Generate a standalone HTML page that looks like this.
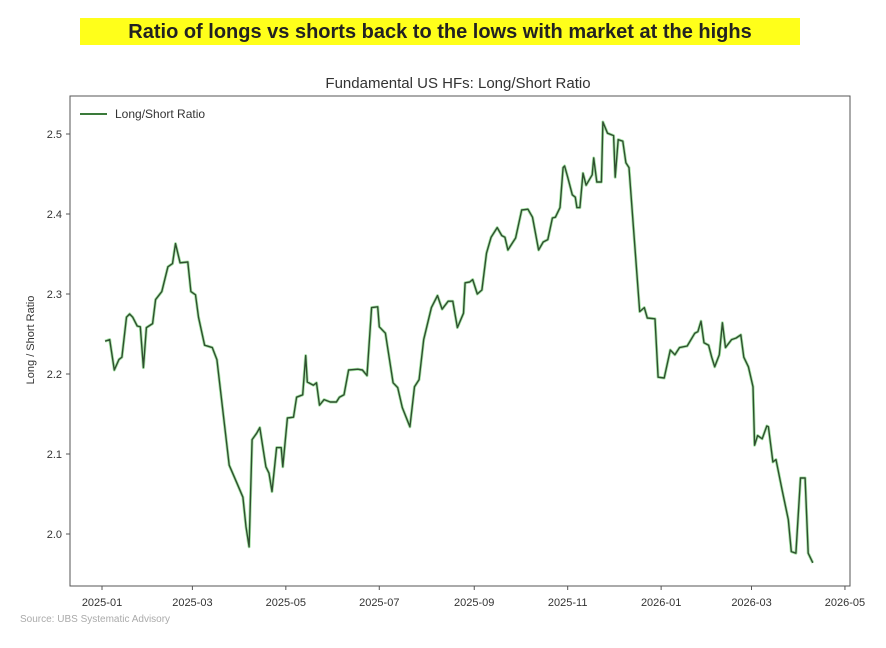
<!DOCTYPE html>
<html><head><meta charset="utf-8"><style>
body{margin:0;background:#fff;width:886px;height:643px;overflow:hidden;font-family:"Liberation Sans",sans-serif}
</style></head><body>
<svg id="c" width="886" height="643" xmlns="http://www.w3.org/2000/svg">
<rect x="80" y="18" width="720" height="27" fill="#ffff1a"/>
<text x="440" y="38" text-anchor="middle" font-size="20" font-weight="bold" fill="#222">Ratio of longs vs shorts back to the lows with market at the highs</text>
<text x="458" y="88" text-anchor="middle" font-size="15" fill="#333">Fundamental US HFs: Long/Short Ratio</text>
<text transform="translate(34,340) rotate(-90)" text-anchor="middle" font-size="11" fill="#333">Long / Short Ratio</text>
<text x="20" y="622" font-size="10" fill="#aaa">Source: UBS Systematic Advisory</text>
<g id="ax"></g>
<g id="plot"></g>
<rect x="70" y="96" width="780" height="490" fill="none" stroke="#555" stroke-width="1"/>
<g>
<line x1="80" y1="114" x2="107" y2="114" stroke="#3a7a3a" stroke-width="2"/>
<text x="115" y="118" font-size="12" fill="#333">Long/Short Ratio</text>
</g>
</svg>
<script>
const days=[2,5,8,11,13,16,18,20,23,25,27,29,33,35,39,43,46,48,51,56,58,61,63,67,72,75,83,88,92,94,96,98,101,103,107,109,111,114,117,118,121,125,127,131,133,134,138,140,142,145,149,153,155,158,161,167,170,173,176,180,181,185,190,193,196,201,204,207,210,215,219,222,226,229,232,236,237,240,242,245,248,251,254,258,261,263,265,268,270,274,278,281,285,288,291,294,296,299,301,302,304,307,309,310,312,314,316,320,321,323,326,327,330,334,335,337,340,342,344,349,351,354,356,361,363,367,371,374,377,382,387,389,391,393,396,398,400,403,405,407,411,414,417,419,422,425,426,428,431,434,435,438,440,444,448,450,453,456,459,461,464];
const values=[2.241,2.243,2.205,2.218,2.221,2.271,2.275,2.271,2.260,2.259,2.208,2.258,2.263,2.293,2.303,2.334,2.338,2.363,2.339,2.340,2.303,2.299,2.271,2.236,2.233,2.218,2.086,2.064,2.046,2.009,1.984,2.118,2.126,2.133,2.084,2.076,2.053,2.108,2.108,2.084,2.145,2.146,2.171,2.174,2.223,2.190,2.186,2.189,2.161,2.168,2.165,2.165,2.171,2.174,2.205,2.206,2.205,2.198,2.283,2.284,2.259,2.251,2.189,2.183,2.158,2.134,2.184,2.193,2.243,2.283,2.298,2.281,2.291,2.291,2.258,2.276,2.314,2.315,2.318,2.300,2.305,2.351,2.371,2.383,2.373,2.371,2.355,2.364,2.370,2.405,2.406,2.396,2.355,2.365,2.368,2.395,2.396,2.408,2.458,2.460,2.446,2.424,2.421,2.408,2.408,2.451,2.436,2.449,2.470,2.440,2.440,2.515,2.501,2.498,2.446,2.493,2.491,2.464,2.458,2.330,2.278,2.283,2.270,2.269,2.196,2.195,2.230,2.224,2.233,2.235,2.251,2.253,2.266,2.239,2.236,2.221,2.209,2.224,2.264,2.233,2.243,2.245,2.249,2.221,2.209,2.184,2.111,2.123,2.119,2.135,2.134,2.090,2.093,2.055,2.018,1.978,1.976,2.070,2.070,1.976,1.964];
const xTickDays=[0,59,120,181,243,304,365,424,485];
const xTickLabels=["2025-01","2025-03","2025-05","2025-07","2025-09","2025-11","2026-01","2026-03","2026-05"];
const yTicks=[2.0,2.1,2.2,2.3,2.4,2.5];
const yTickLabels=["2.0","2.1","2.2","2.3","2.4","2.5"];
const NS="http://www.w3.org/2000/svg";
const X0=-20.9,X1=488.3,PL=70,PR=850,Y0=1.935,Y1=2.5475,PB=586,PT=96;
const xs=d=>PL+(d-X0)/(X1-X0)*(PR-PL);
const ys=v=>PB-(v-Y0)/(Y1-Y0)*(PB-PT);
const ax=document.getElementById('ax'),plot=document.getElementById('plot');
function mk(t,a){const e=document.createElementNS(NS,t);for(const k in a)e.setAttribute(k,a[k]);return e;}
xTickDays.forEach((d,i)=>{
 const x=xs(d);
 const t=mk('line',{x1:x,x2:x,y1:PB,y2:PB+4,stroke:'#555'});
 
 
 ax.appendChild(t);
 const l=mk('text',{x:x,y:PB+20,'text-anchor':'middle','font-size':'11',fill:'#333'});
 
 
 l.textContent=xTickLabels[i];ax.appendChild(l);
});
yTicks.forEach((v,i)=>{
 const y=ys(v);
 const t=mk('line',{x1:PL-4,x2:PL,y1:y,y2:y,stroke:'#555'});
 
 
 ax.appendChild(t);
 const l=mk('text',{x:PL-8,y:y+4,'text-anchor':'end','font-size':'11',fill:'#333'});
 
 
 l.textContent=yTickLabels[i];ax.appendChild(l);
});
const pts=days.map((d,i)=>xs(d).toFixed(1)+','+ys(values[i]).toFixed(1)).join(' ');
const glow=mk('polyline',{points:pts,fill:'none',stroke:'#6fd26f','stroke-width':'3','stroke-opacity':'0.6','stroke-linejoin':'round'});


plot.appendChild(glow);
const line=mk('polyline',{points:pts,fill:'none',stroke:'#2f4f2f','stroke-width':'1.4','stroke-linejoin':'round'});


plot.appendChild(line);
</script>
</body></html>
